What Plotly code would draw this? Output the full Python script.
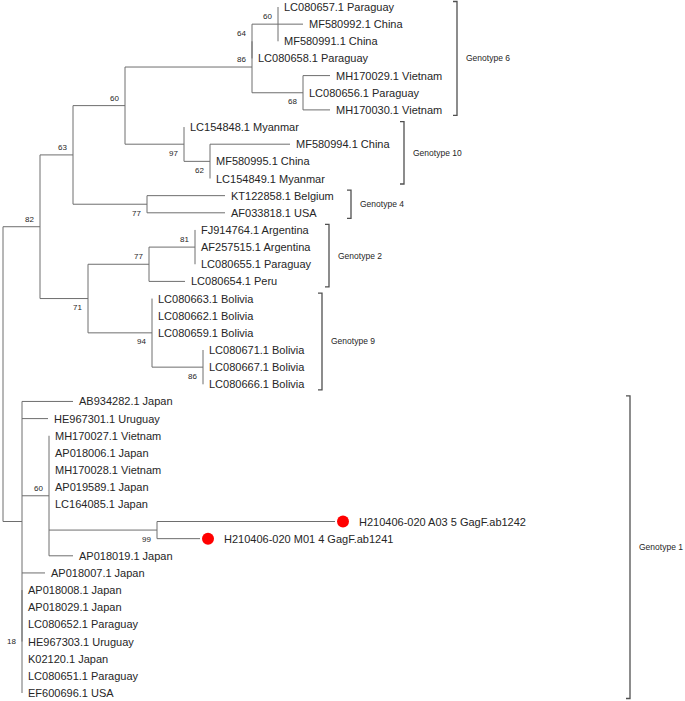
import plotly.graph_objects as go

# ---------------- data ----------------
# Tree (Newick, underscores = spaces, internal labels = bootstrap support, lengths = distance)
NEWICK = """
(
 (
  (
   (
    (
     ((LC080657.1_Paraguay:0,MF580992.1_China:0.0100,MF580991.1_China:0)60:0.0104,
      LC080658.1_Paraguay:0)64:0,
     (MH170029.1_Vietnam:0.0108,LC080656.1_Paraguay:0,MH170030.1_Vietnam:0.0108)68:0.0204
    )86:0.0508,
    (LC154848.1_Myanmar:0,
     (MF580994.1_China:0.0320,MF580995.1_China:0,LC154849.1_Myanmar:0)62:0.0104)97:0.0236
   )60:0.0208,
   (KT122858.1_Belgium:0.0312,AF033818.1_USA:0.0312)77:0.0296
  )63:0.0132,
  (
   ((FJ914764.1_Argentina:0,AF257515.1_Argentina:0,LC080655.1_Paraguay:0)81:0.0184,
    LC080654.1_Peru:0.0144)77:0.0244,
   (LC080663.1_Bolivia:0,LC080662.1_Bolivia:0,LC080659.1_Bolivia:0,
    (LC080671.1_Bolivia:0,LC080667.1_Bolivia:0,LC080666.1_Bolivia:0)86:0.0204)94:0.0256
  )71:0.0192
 )82:0.0148,
 (
  AB934282.1_Japan:0.0204,
  HE967301.1_Uruguay:0.0104,
  (MH170027.1_Vietnam:0,AP018006.1_Japan:0,MH170028.1_Vietnam:0,AP019589.1_Japan:0,
   LC164085.1_Japan:0,
   (H210406-020_A03_5_GagF.ab1242:0.0712,H210406-020_M01_4_GagF.ab1241:0.0172)99:0.0432,
   AP018019.1_Japan:0.0096)60:0.0108,
  AP018007.1_Japan:0.0092,
  (AP018008.1_Japan:0,AP018029.1_Japan:0,LC080652.1_Paraguay:0,HE967303.1_Uruguay:0,
   K02120.1_Japan:0,LC080651.1_Paraguay:0,EF600696.1_USA:0)18:0
 ):0.0076
);
"""

QUERY_LEAVES = ["H210406-020 A03 5 GagF.ab1242", "H210406-020 M01 4 GagF.ab1241"]

GENOTYPES = ["Genotype 6", "Genotype 10", "Genotype 4", "Genotype 2", "Genotype 9", "Genotype 1"]
GENO_FIRST = ["LC080657.1 Paraguay", "LC154848.1 Myanmar", "KT122858.1 Belgium",
              "FJ914764.1 Argentina", "LC080663.1 Bolivia", "AB934282.1 Japan"]
GENO_LAST = ["MH170030.1 Vietnam", "LC154849.1 Myanmar", "AF033818.1 USA",
             "LC080654.1 Peru", "LC080666.1 Bolivia", "EF600696.1 USA"]

# ---------------- style ----------------
W, H = 685, 701
PX_PER_UNIT = 2500.0
X0_PX = 3.0
ROW_PX = 17.15
Y0_PX = 7.0
BRACKET_PX = [457, 404, 351, 329, 322, 630]
LINE_COLOR = "#6e6e6e"
TEXT_COLOR = "#262626"
FONT = "Liberation Sans, Arial, sans-serif"


def px2x(px):
    return (px - X0_PX) / PX_PER_UNIT


# ---------------- parse newick ----------------
def parse_newick(s):
    s = "".join(s.split())
    pos = [0]

    def read_label():
        start = pos[0]
        while pos[0] < len(s) and s[pos[0]] not in "(),:;":
            pos[0] += 1
        return s[start:pos[0]]

    def node():
        n = {"children": [], "name": "", "len": 0.0}
        if s[pos[0]] == "(":
            pos[0] += 1
            n["children"].append(node())
            while s[pos[0]] == ",":
                pos[0] += 1
                n["children"].append(node())
            pos[0] += 1  # ')'
        n["name"] = read_label().replace("_", " ")
        if pos[0] < len(s) and s[pos[0]] == ":":
            pos[0] += 1
            n["len"] = float(read_label())
        return n

    return node()


tree = parse_newick(NEWICK)

leaves = []


def layout(n, x, parent=None):
    n["x"] = x + n["len"]
    n["parent"] = parent
    if not n["children"]:
        n["y"] = len(leaves)
        leaves.append(n)
    else:
        for c in n["children"]:
            layout(c, n["x"], n)
        n["y"] = (n["children"][0]["y"] + n["children"][-1]["y"]) / 2.0


layout(tree, 0.0)
leaf_row = {l["name"]: l["y"] for l in leaves}

lx, ly = [], []
annotations = []


def walk(n):
    p = n["parent"]
    if p is not None:
        lx.extend([p["x"], n["x"], None])
        ly.extend([n["y"], n["y"], None])
    if n["children"]:
        lx.extend([n["x"], n["x"], None])
        ly.extend([n["children"][0]["y"], n["children"][-1]["y"], None])
        if n["name"] and p is not None:
            if n["len"] == 0 and n is p["children"][-1]:
                ys = 0
            elif n["y"] <= p["y"]:
                ys = 7.5
            else:
                ys = -9
            annotations.append(dict(x=n["x"], y=n["y"], text=n["name"], showarrow=False,
                                    xanchor="right", yanchor="middle", xshift=-4, yshift=ys,
                                    font=dict(family=FONT, size=8, color=TEXT_COLOR)))
        for c in n["children"]:
            walk(c)


walk(tree)

fig = go.Figure()
fig.add_trace(go.Scatter(x=lx, y=ly, mode="lines", line=dict(color=LINE_COLOR, width=1),
                         hoverinfo="skip", showlegend=False))

# leaf labels
mx, my = [], []
for l in leaves:
    if l["name"] in QUERY_LEAVES:
        mx.append(l["x"] + 8 / PX_PER_UNIT)
        my.append(l["y"])
        shift = 22
    else:
        shift = 4
    annotations.append(dict(x=l["x"], y=l["y"], text=l["name"], showarrow=False,
                            xanchor="left", yanchor="middle", xshift=shift,
                            font=dict(family=FONT, size=11, color=TEXT_COLOR)))

fig.add_trace(go.Scatter(x=mx, y=my, mode="markers",
                         marker=dict(color="#ff0000", size=12, line=dict(width=0)),
                         hoverinfo="skip", showlegend=False))

# genotype brackets
bx, by = [], []
tick = 4 / PX_PER_UNIT
ext = 5.5 / ROW_PX
for g, f, la, bpx in zip(GENOTYPES, GENO_FIRST, GENO_LAST, BRACKET_PX):
    xb = px2x(bpx)
    y1 = leaf_row[f] - ext
    y2 = leaf_row[la] + ext
    bx.extend([xb - tick, xb, xb, xb - tick, None])
    by.extend([y1, y1, y2, y2, None])
    annotations.append(dict(x=xb, y=(y1 + y2) / 2, text=g, showarrow=False,
                            xanchor="left", yanchor="middle", xshift=7,
                            font=dict(family=FONT, size=8.5, color=TEXT_COLOR)))

fig.add_trace(go.Scatter(x=bx, y=by, mode="lines", line=dict(color="#505050", width=1.3),
                         hoverinfo="skip", showlegend=False))

fig.update_layout(
    width=W, height=H, autosize=False,
    margin=dict(l=0, r=0, t=0, b=0),
    paper_bgcolor="white", plot_bgcolor="white",
    annotations=annotations,
    xaxis=dict(visible=False, range=[px2x(0), px2x(W)], fixedrange=True),
    yaxis=dict(visible=False, range=[(H - Y0_PX) / ROW_PX, -Y0_PX / ROW_PX], fixedrange=True),
    hovermode=False,
)

fig.write_html("out.html", config={"displayModeBar": False},
               post_script="document.body.style.margin='0';")
